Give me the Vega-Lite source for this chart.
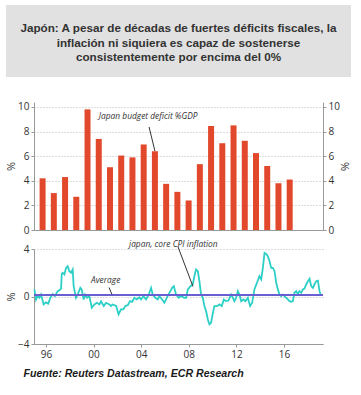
{
  "$schema": "https://vega.github.io/schema/vega-lite/v6.json",
  "background": "white",
  "padding": {"left": 5, "top": 5, "right": 5, "bottom": 5},
  "autosize": {"type": "pad"},
  "spacing": 19,
  "center": true,
  "bounds": "flush",
  "config": {
    "view": {"stroke": null},
    "axis": {
      "labelFont": "Open Sans", "labelFontSize": 10, "labelColor": "#333",
      "domainColor": "#999", "tickColor": "#999", "tickSize": 3, "labelPadding": 2,
      "gridColor": "#bbb", "gridDash": [1, 2],
      "titleFont": "Open Sans", "titleFontWeight": "normal", "titleFontSize": 11, "titleColor": "#333"
    }
  },
  "datasets": {
    "deficit": [
      {"year": 1995, "deficit": 4.2}, {"year": 1996, "deficit": 3.0}, {"year": 1997, "deficit": 4.3},
      {"year": 1998, "deficit": 2.7}, {"year": 1999, "deficit": 9.8}, {"year": 2000, "deficit": 7.4},
      {"year": 2001, "deficit": 5.1}, {"year": 2002, "deficit": 6.05}, {"year": 2003, "deficit": 5.9},
      {"year": 2004, "deficit": 6.95}, {"year": 2005, "deficit": 6.4}, {"year": 2006, "deficit": 3.75},
      {"year": 2007, "deficit": 3.1}, {"year": 2008, "deficit": 2.4}, {"year": 2009, "deficit": 5.35},
      {"year": 2010, "deficit": 8.45}, {"year": 2011, "deficit": 7.05}, {"year": 2012, "deficit": 8.5},
      {"year": 2013, "deficit": 7.25}, {"year": 2014, "deficit": 6.25}, {"year": 2015, "deficit": 5.2},
      {"year": 2016, "deficit": 3.8}, {"year": 2017, "deficit": 4.1}
    ],
    "cpi": [
      {"t": 1995.03, "v": 0.6}, {"t": 1995.17, "v": -0.25}, {"t": 1995.3, "v": 0.05}, {"t": 1995.45, "v": -0.1},
      {"t": 1995.59, "v": 0.17}, {"t": 1995.81, "v": -0.67}, {"t": 1996.0, "v": -0.5}, {"t": 1996.2, "v": -0.6},
      {"t": 1996.37, "v": -0.11}, {"t": 1996.57, "v": 0.2}, {"t": 1996.76, "v": 0.03}, {"t": 1996.99, "v": 0.45},
      {"t": 1997.15, "v": 0.55}, {"t": 1997.27, "v": 0.65}, {"t": 1997.33, "v": 1.9}, {"t": 1997.41, "v": 2.0},
      {"t": 1997.55, "v": 1.85}, {"t": 1997.69, "v": 2.4}, {"t": 1997.83, "v": 2.55}, {"t": 1997.97, "v": 2.13},
      {"t": 1998.11, "v": 2.0}, {"t": 1998.25, "v": 2.27}, {"t": 1998.33, "v": 0.87}, {"t": 1998.53, "v": -0.11},
      {"t": 1998.67, "v": 0.17}, {"t": 1998.89, "v": 0.73}, {"t": 1999.0, "v": 0.6}, {"t": 1999.17, "v": -0.25},
      {"t": 1999.29, "v": 0.17}, {"t": 1999.45, "v": -0.1}, {"t": 1999.65, "v": 0.03}, {"t": 1999.85, "v": -0.95},
      {"t": 2000.07, "v": -0.67}, {"t": 2000.29, "v": -0.53}, {"t": 2000.49, "v": -0.67}, {"t": 2000.63, "v": -0.4},
      {"t": 2000.86, "v": -0.8}, {"t": 2001.05, "v": -0.53}, {"t": 2001.33, "v": -0.67}, {"t": 2001.47, "v": -0.8},
      {"t": 2001.6, "v": -0.67}, {"t": 2001.9, "v": -0.8}, {"t": 2002.1, "v": -1.51}, {"t": 2002.3, "v": -1.09},
      {"t": 2002.5, "v": -1.09}, {"t": 2002.67, "v": -0.8}, {"t": 2002.87, "v": -0.73}, {"t": 2003.07, "v": -0.39},
      {"t": 2003.24, "v": -0.45}, {"t": 2003.43, "v": -0.11}, {"t": 2003.63, "v": -0.25}, {"t": 2003.85, "v": -0.06},
      {"t": 2003.99, "v": -0.25}, {"t": 2004.19, "v": 0.03}, {"t": 2004.41, "v": -0.25}, {"t": 2004.64, "v": 0.17},
      {"t": 2004.83, "v": 0.73}, {"t": 2004.97, "v": 0.17}, {"t": 2005.19, "v": -0.11}, {"t": 2005.39, "v": -0.25},
      {"t": 2005.53, "v": 0.03}, {"t": 2005.76, "v": -0.25}, {"t": 2005.95, "v": -0.53}, {"t": 2006.15, "v": -0.11},
      {"t": 2006.37, "v": 0.31}, {"t": 2006.6, "v": 0.73}, {"t": 2006.74, "v": 0.87}, {"t": 2006.93, "v": 0.17},
      {"t": 2007.16, "v": -0.11}, {"t": 2007.35, "v": 0.03}, {"t": 2007.63, "v": -0.11}, {"t": 2007.77, "v": -0.11},
      {"t": 2007.92, "v": 0.6}, {"t": 2008.14, "v": 0.87}, {"t": 2008.33, "v": 1.01}, {"t": 2008.47, "v": 1.71},
      {"t": 2008.61, "v": 2.27}, {"t": 2008.76, "v": 2.13}, {"t": 2008.89, "v": 1.29}, {"t": 2009.03, "v": 0.17},
      {"t": 2009.18, "v": -0.11}, {"t": 2009.31, "v": -0.81}, {"t": 2009.45, "v": -1.23}, {"t": 2009.6, "v": -1.93},
      {"t": 2009.73, "v": -2.35}, {"t": 2009.87, "v": -2.21}, {"t": 2010.0, "v": -1.51}, {"t": 2010.15, "v": -0.81},
      {"t": 2010.38, "v": -0.81}, {"t": 2010.57, "v": -0.67}, {"t": 2010.77, "v": -0.81}, {"t": 2010.94, "v": -0.25},
      {"t": 2011.13, "v": -0.39}, {"t": 2011.33, "v": -0.34}, {"t": 2011.55, "v": 0.17}, {"t": 2011.7, "v": -0.11},
      {"t": 2011.83, "v": -0.39}, {"t": 2011.97, "v": -0.11}, {"t": 2012.12, "v": 0.45}, {"t": 2012.25, "v": 0.17},
      {"t": 2012.4, "v": -0.39}, {"t": 2012.59, "v": -0.25}, {"t": 2012.76, "v": -0.39}, {"t": 2012.96, "v": -0.11},
      {"t": 2013.15, "v": -0.81}, {"t": 2013.32, "v": -0.53}, {"t": 2013.51, "v": 0.6}, {"t": 2013.74, "v": 1.2},
      {"t": 2013.93, "v": 1.71}, {"t": 2014.08, "v": 1.43}, {"t": 2014.22, "v": 2.41}, {"t": 2014.36, "v": 3.67},
      {"t": 2014.5, "v": 3.59}, {"t": 2014.64, "v": 3.39}, {"t": 2014.78, "v": 2.97}, {"t": 2014.92, "v": 2.41},
      {"t": 2015.06, "v": 2.41}, {"t": 2015.2, "v": 2.13}, {"t": 2015.34, "v": 1.15}, {"t": 2015.48, "v": 0.6},
      {"t": 2015.62, "v": 0.17}, {"t": 2015.76, "v": 0.03}, {"t": 2015.9, "v": 0.17}, {"t": 2016.03, "v": 0.03},
      {"t": 2016.18, "v": -0.11}, {"t": 2016.32, "v": -0.25}, {"t": 2016.45, "v": -0.39}, {"t": 2016.6, "v": -0.45},
      {"t": 2016.74, "v": -0.39}, {"t": 2016.87, "v": 0.31}, {"t": 2017.02, "v": 0.45}, {"t": 2017.16, "v": 0.2},
      {"t": 2017.29, "v": 0.45}, {"t": 2017.44, "v": 0.31}, {"t": 2017.58, "v": 0.6}, {"t": 2017.71, "v": 0.67},
      {"t": 2017.86, "v": 1.01}, {"t": 2018.0, "v": 1.29}, {"t": 2018.14, "v": 1.5}, {"t": 2018.28, "v": 0.87},
      {"t": 2018.42, "v": 0.73}, {"t": 2018.55, "v": 1.01}, {"t": 2018.7, "v": 1.29}, {"t": 2018.84, "v": 1.34},
      {"t": 2018.98, "v": 0.45}, {"t": 2019.06, "v": 0.17}
    ],
    "average": [{"avg": 0.12}],
    "topLabels": [{"x": 2000.0, "y": 9.27, "label": "Japan budget deficit %GDP"}],
    "topPointers": [{"x": 2004.48, "y": 8.37, "x2": 2005.0, "y2": 6.42}],
    "bottomLabels": [
      {"x": 2002.98, "y": 4.45, "label": "japan, core CPI inflation"},
      {"x": 1999.79, "y": 1.43, "label": "Average"}
    ],
    "bottomPointers": [
      {"x": 2007.09, "y": 4.2, "x2": 2008.35, "y2": 0.84},
      {"x": 2001.3, "y": 0.76, "x2": 2001.55, "y2": 0.17}
    ]
  },
  "vconcat": [
    {
      "width": 345,
      "height": 72,
      "view": {"fill": "#e1e1e1", "stroke": null},
      "data": {"values": [{"k": 1}]},
      "mark": {
        "type": "text",
        "text": ["Japón: A pesar de décadas de fuertes déficits fiscales, la", "inflación ni siquiera es capaz de sostenerse", "consistentemente por encima del 0%"],
        "font": "Liberation Sans", "fontWeight": "bold", "fontSize": 11.7, "lineHeight": 14.6,
        "color": "#333", "align": "center", "baseline": "middle", "dy": -13
      }
    },
    {
      "width": 289,
      "height": 134,
      "layer": [
        {
          "data": {"name": "deficit"},
          "mark": {"type": "bar", "color": "#e2492c", "width": 6},
          "encoding": {
            "x": {"field": "year", "type": "quantitative", "scale": {"domain": [1994.68, 2019.52], "nice": false, "zero": false},
                  "axis": {"labels": false, "ticks": false, "grid": false, "title": null, "domain": true}},
            "y": {"field": "deficit", "type": "quantitative", "scale": {"domain": [0, 10.4], "range": [134, 6], "nice": false},
                  "axis": {"orient": "left", "values": [0, 2, 4, 6, 8, 10], "grid": true, "title": "%", "minExtent": 14, "maxExtent": 14, "titlePadding": 4, "labelOverlap": false}}
          }
        },
        {
          "data": {"name": "deficit"},
          "mark": {"type": "bar", "opacity": 0, "width": 6},
          "encoding": {
            "x": {"field": "year", "type": "quantitative"},
            "y": {"field": "deficit", "type": "quantitative",
                  "axis": {"orient": "right", "values": [0, 2, 4, 6, 8, 10], "grid": false, "title": "%", "titlePadding": 3, "minExtent": 12, "maxExtent": 12, "labelOverlap": false}}
          }
        },
        {
          "data": {"name": "topLabels"},
          "mark": {"type": "text", "align": "left", "baseline": "middle", "font": "Open Sans", "fontStyle": "italic", "fontSize": 8.4, "color": "#333"},
          "encoding": {
            "x": {"field": "x", "type": "quantitative"},
            "y": {"field": "y", "type": "quantitative", "axis": null},
            "text": {"field": "label"}
          }
        },
        {
          "data": {"name": "topPointers"},
          "mark": {"type": "rule", "color": "#333", "strokeWidth": 1},
          "encoding": {
            "x": {"field": "x", "type": "quantitative"},
            "x2": {"field": "x2"},
            "y": {"field": "y", "type": "quantitative", "axis": null},
            "y2": {"field": "y2"}
          }
        }
      ],
      "resolve": {"axis": {"y": "independent"}}
    },
    {
      "width": 289,
      "height": 95,
      "layer": [
        {
          "data": {"name": "cpi"},
          "mark": {"type": "line", "color": "#2ccfc6", "strokeWidth": 1.8},
          "encoding": {
            "x": {"field": "t", "type": "quantitative", "scale": {"domain": [1995, 2019.27], "nice": false, "zero": false},
                  "axis": {"values": [1996, 1998, 2000, 2002, 2004, 2006, 2008, 2010, 2012, 2014, 2016, 2018],
                           "format": "d", "labelExpr": "substring(datum.label, 2)",
                           "grid": false, "labelFlush": false, "labelOverlap": false, "labelBound": false,
                           "title": "Fuente: Reuters Datastream, ECR Research",
                           "titleFont": "Liberation Sans", "titleFontWeight": "bold", "titleFontStyle": "italic", "titleFontSize": 10.6, "titleColor": "#1a1a1a",
                           "titleAnchor": "start", "titleAlign": "left", "titleBaseline": "middle", "titleX": -11, "titleY": 29}},
            "y": {"field": "v", "type": "quantitative", "scale": {"domain": [-4, 4], "nice": false},
                  "axis": {"orient": "left", "values": [-4, -2, 0, 2, 4], "grid": true, "title": "%", "minExtent": 14, "maxExtent": 14, "titlePadding": 4, "labelOverlap": false}}
          }
        },
        {
          "data": {"name": "average"},
          "mark": {"type": "rule", "color": "#6a5fd0", "strokeWidth": 2},
          "encoding": {"y": {"field": "avg", "type": "quantitative"}}
        },
        {
          "data": {"name": "bottomLabels"},
          "mark": {"type": "text", "align": "left", "baseline": "middle", "font": "Open Sans", "fontStyle": "italic", "fontSize": 8.4, "color": "#333"},
          "encoding": {
            "x": {"field": "x", "type": "quantitative"},
            "y": {"field": "y", "type": "quantitative"},
            "text": {"field": "label"}
          }
        },
        {
          "data": {"name": "bottomPointers"},
          "mark": {"type": "rule", "color": "#333", "strokeWidth": 1},
          "encoding": {
            "x": {"field": "x", "type": "quantitative"},
            "x2": {"field": "x2"},
            "y": {"field": "y", "type": "quantitative"},
            "y2": {"field": "y2"}
          }
        }
      ]
    }
  ]
}
